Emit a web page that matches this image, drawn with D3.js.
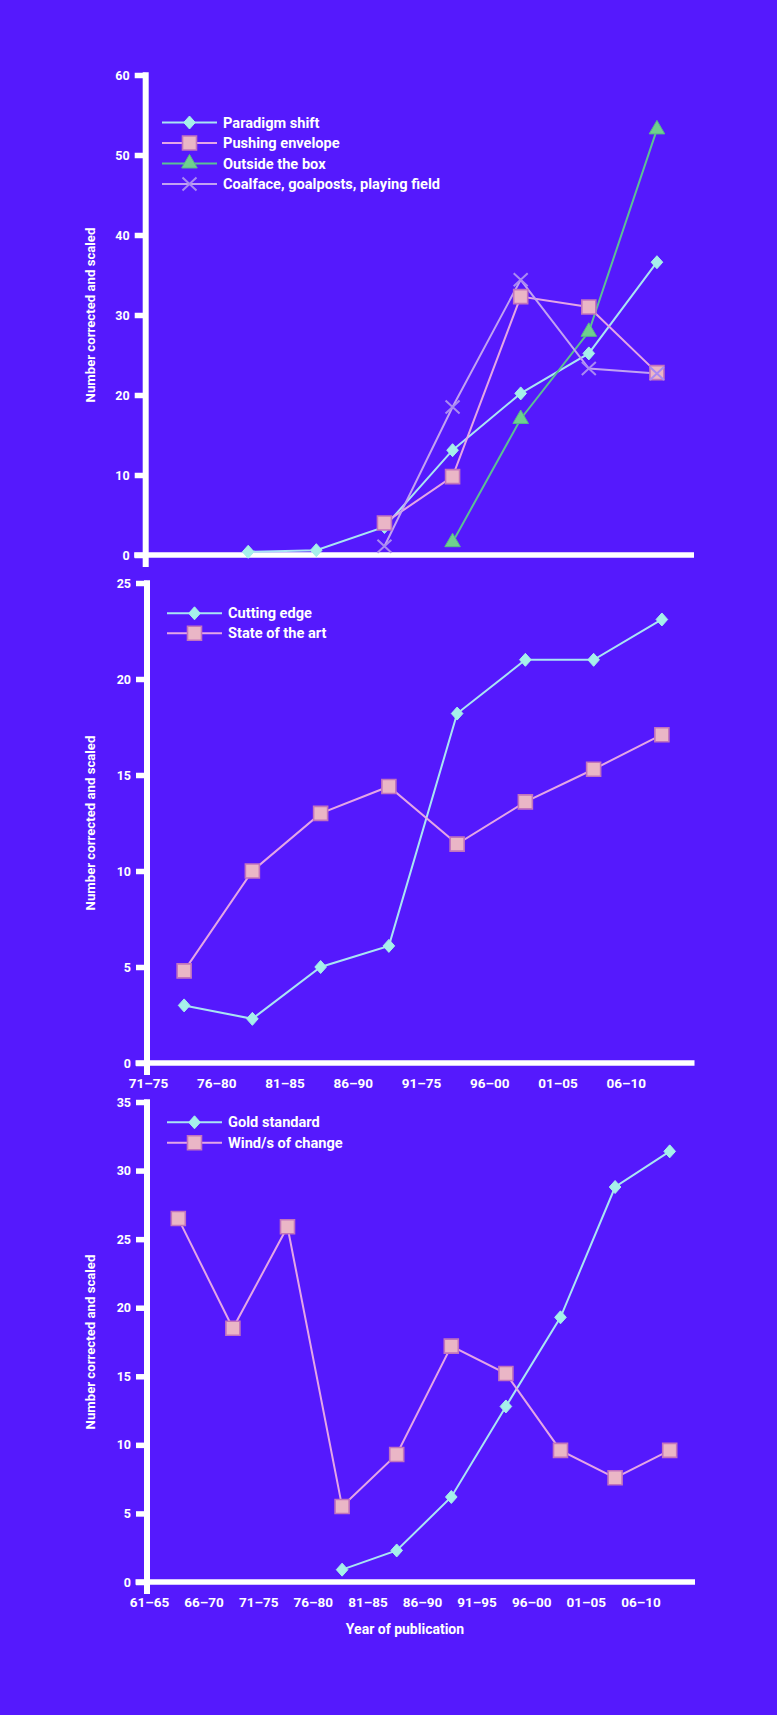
<!DOCTYPE html>
<html>
<head>
<meta charset="utf-8">
<script src="https://cdn.jsdelivr.net/npm/d3@7"></script>
<style>
  html, body { margin: 0; padding: 0; background: #5519fd; }
  svg { display: block; }
  text { font-family: Roboto, "DejaVu Sans", sans-serif; font-weight: 700; fill: #ffffff; }
</style>
</head>
<body>
<svg id="chart" width="777" height="1715"></svg>
<script>
// ---------- DATA ----------
const periodsA = ["71–75", "76–80", "81–85", "86–90", "91–75", "96–00", "01–05", "06–10"];
const periodsB = ["61–65", "66–70", "71–75", "76–80", "81–85", "86–90", "91–95", "96–00", "01–05", "06–10"];

// Chart 1 (same periods as chart 2, x labels not shown)
const paradigmShift  = [null, 0.4, 0.6, 3.5, 13.1, 20.2, 25.2, 36.6];
const pushingEnvelope = [null, null, null, 4.0, 9.8, 32.3, 31.0, 22.8];
const outsideTheBox  = [null, null, null, null, 1.6, 17.0, 27.9, 53.2];
const coalface       = [null, null, null, 1.1, 18.5, 34.4, 23.3, 22.7];
const ticks1 = [0, 10, 20, 30, 40, 50, 60];

// Chart 2
const cuttingEdge = [3.0, 2.3, 5.0, 6.1, 18.2, 21.0, 21.0, 23.1];
const stateOfArt  = [4.8, 10.0, 13.0, 14.4, 11.4, 13.6, 15.3, 17.1];
const ticks2 = [0, 5, 10, 15, 20, 25];

// Chart 3
const goldStandard = [null, null, null, 0.9, 2.3, 6.2, 12.8, 19.3, 28.8, 31.4];
const windOfChange = [26.5, 18.5, 25.9, 5.5, 9.3, 17.2, 15.2, 9.6, 7.6, 9.6];
const ticks3 = [0, 5, 10, 15, 20, 25, 30, 35];

const yTitle = "Number corrected and scaled";
const xTitle = "Year of publication";

// ---------- STYLES ----------
const STY = {
  diamond: { line: "#a9e4f4", fill: "#a6f0ea", stroke: "#a6f0ea" },
  square:  { line: "#e4a6e6", fill: "#eab6c6", stroke: "#c274bc" },
  triangle:{ line: "#5cbf95", fill: "#6fd08e", stroke: "#58b888" },
  cross:   { line: "#c2a2f2", fill: "none",    stroke: "#a98af2" }
};

const svg = d3.select("#chart");

function markerPath(type) {
  if (type === "diamond") return "M0,-6.5L5.8,0L0,6.5L-5.8,0Z";
  if (type === "square") return "M-7,-7H7V7H-7Z";
  if (type === "triangle") return d3.symbol(d3.symbolTriangle, 105)();
  if (type === "cross") return "M-7,-6.5L7,6.5M-7,6.5L7,-6.5";
}

function drawMarker(g, type, x, y) {
  const s = STY[type];
  g.append("path")
    .attr("d", markerPath(type))
    .attr("transform", `translate(${x},${y})`)
    .attr("fill", s.fill)
    .attr("stroke", s.stroke)
    .attr("stroke-width", type === "cross" ? 2 : (type === "square" ? 1.6 : 1));
}

function drawChart(cfg) {
  const g = svg.append("g");
  const x = d3.scaleBand().domain(cfg.cats).range(cfg.xRange).padding(0);
  const y = d3.scaleLinear().domain([0, d3.max(cfg.ticks)]).range(cfg.yRange);
  const bw = x.bandwidth();
  const y0 = y(0), yTop = y(d3.max(cfg.ticks));

  // y ticks + labels via d3 axis
  const yAxis = d3.axisLeft(y).tickValues(cfg.ticks).tickSize(11).tickPadding(5).tickFormat(d3.format("d"));
  const ya = g.append("g").attr("transform", `translate(${cfg.axisX},0)`).call(yAxis);
  ya.select(".domain").remove();
  ya.selectAll(".tick line").attr("stroke", "#fff").attr("stroke-width", 5.5);
  ya.selectAll(".tick text").attr("fill", "#fff").style("font-size", "12.5px").style("font-family", "Roboto, sans-serif").style("font-weight", 700);

  // vertical axis line
  g.append("line").attr("x1", cfg.axisX).attr("x2", cfg.axisX)
    .attr("y1", yTop - 2.75).attr("y2", y0 + 12)
    .attr("stroke", "#fff").attr("stroke-width", 6);
  // horizontal axis line
  g.append("line").attr("x1", cfg.axisX - 11.5).attr("x2", cfg.xEnd)
    .attr("y1", y0).attr("y2", y0)
    .attr("stroke", "#fff").attr("stroke-width", 5.5);

  // x tick labels
  if (cfg.showX) {
    const xAxis = d3.axisBottom(x).tickSize(0).tickPadding(15.5);
    const xa = g.append("g").attr("transform", `translate(0,${y0})`).call(xAxis);
    xa.select(".domain").remove();
    xa.selectAll(".tick text").attr("dx", -bw / 2 - 1.5).attr("fill", "#fff")
      .style("font-size", "13.5px").style("font-family", "Roboto, sans-serif").style("font-weight", 700);
  }

  // y title
  g.append("text")
    .attr("transform", `translate(${cfg.titleX},${(y0 + yTop) / 2}) rotate(-90)`)
    .attr("text-anchor", "middle").attr("dy", "0.35em")
    .style("font-size", "13.2px")
    .text(yTitle);

  // series lines
  cfg.series.forEach(s => {
    const pts = s.values.map((v, i) => ({ c: cfg.cats[i], v })).filter(d => d.v != null);
    const line = d3.line().x(d => x(d.c) + bw / 2).y(d => y(d.v));
    g.append("path").attr("d", line(pts)).attr("fill", "none")
      .attr("stroke", STY[s.type].line).attr("stroke-width", 2);
  });
  // series markers
  cfg.series.forEach(s => {
    s.values.forEach((v, i) => {
      if (v == null) return;
      drawMarker(g, s.type, x(cfg.cats[i]) + bw / 2, y(v));
    });
  });

  // legend
  const lg = g.append("g");
  cfg.series.forEach((s, i) => {
    const ly = cfg.legend.y + i * cfg.legend.dy;
    lg.append("line").attr("x1", cfg.legend.x).attr("x2", cfg.legend.x + 55)
      .attr("y1", ly).attr("y2", ly).attr("stroke", STY[s.type].line).attr("stroke-width", 2);
    drawMarker(lg, s.type, cfg.legend.x + 27.5, ly);
    lg.append("text").attr("x", cfg.legend.x + 61).attr("y", ly).attr("dy", "0.35em")
      .style("font-size", "14.6px").text(s.name);
  });
}

drawChart({
  cats: periodsA, ticks: ticks1, xRange: [146, 691], yRange: [555, 75],
  axisX: 145.7, xEnd: 694, titleX: 90, showX: false,
  legend: { x: 162, y: 122.5, dy: 20.5 },
  series: [
    { name: "Paradigm shift", values: paradigmShift, type: "diamond" },
    { name: "Pushing envelope", values: pushingEnvelope, type: "square" },
    { name: "Outside the box", values: outsideTheBox, type: "triangle" },
    { name: "Coalface, goalposts, playing field", values: coalface, type: "cross" }
  ]
});

drawChart({
  cats: periodsA, ticks: ticks2, xRange: [150, 696], yRange: [1063, 583],
  axisX: 147, xEnd: 694.5, titleX: 90, showX: true,
  legend: { x: 167, y: 613.3, dy: 20 },
  series: [
    { name: "Cutting edge", values: cuttingEdge, type: "diamond" },
    { name: "State of the art", values: stateOfArt, type: "square" }
  ]
});

drawChart({
  cats: periodsB, ticks: ticks3, xRange: [151, 697], yRange: [1582, 1102],
  axisX: 147, xEnd: 695, titleX: 90, showX: true,
  legend: { x: 167, y: 1122.3, dy: 20.4 },
  series: [
    { name: "Gold standard", values: goldStandard, type: "diamond" },
    { name: "Wind/s of change", values: windOfChange, type: "square" }
  ]
});

svg.append("text").attr("x", 405).attr("y", 1629).attr("dy", "0.35em")
  .attr("text-anchor", "middle").style("font-size", "14px").text(xTitle);
</script>
</body>
</html>
